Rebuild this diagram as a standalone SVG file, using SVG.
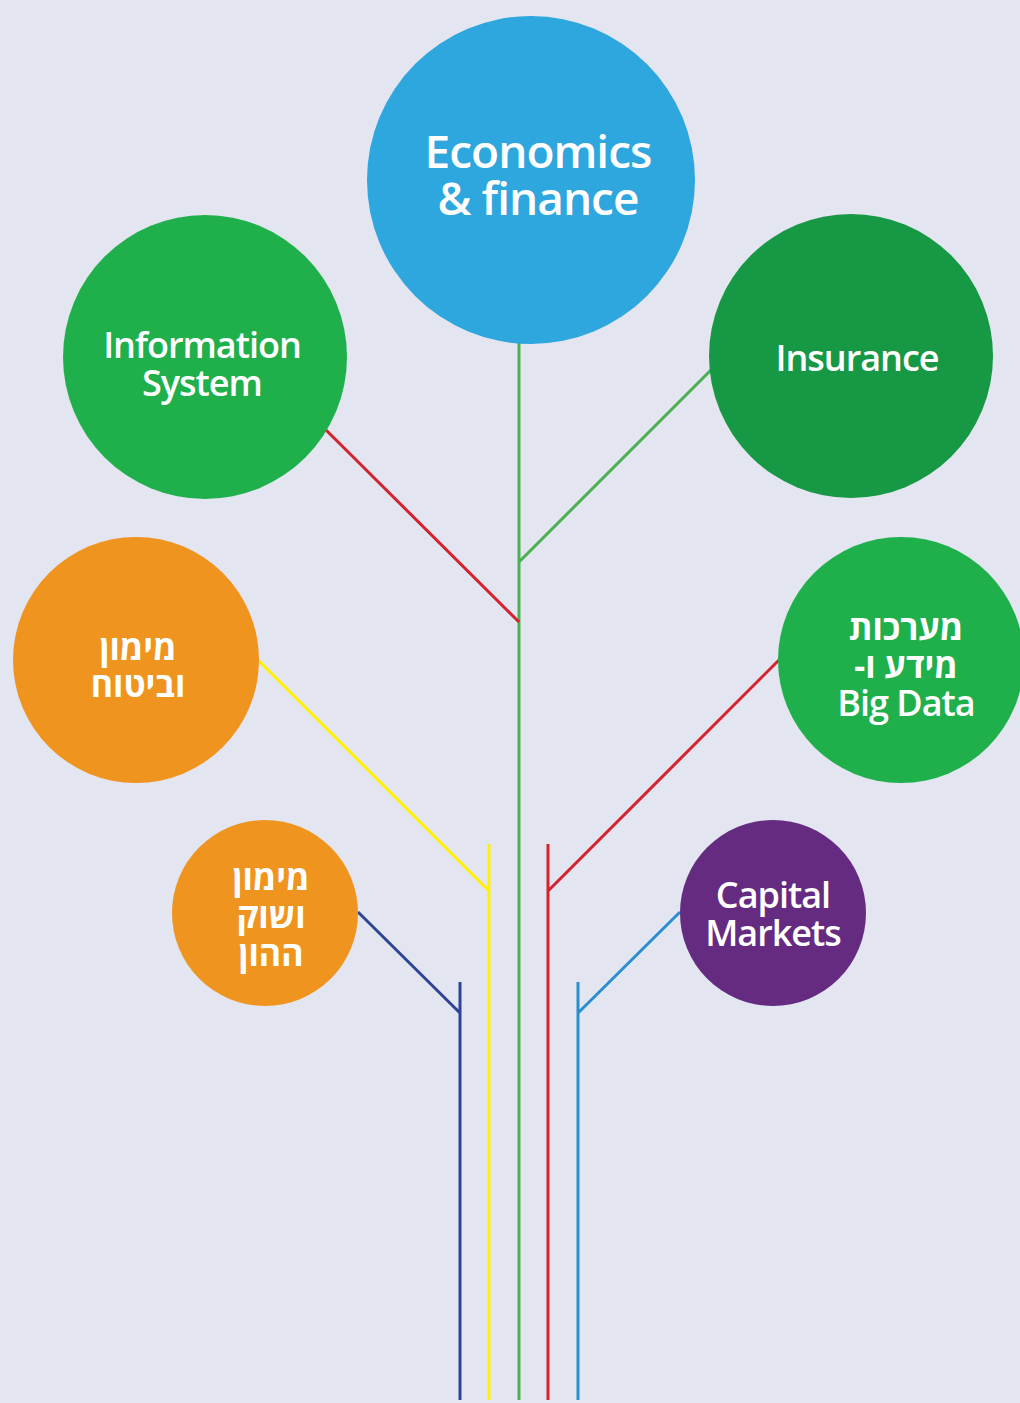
<svg xmlns="http://www.w3.org/2000/svg" width="1020" height="1403" viewBox="0 0 1020 1403">
<style>
.t{font-family:"Open Sans","Noto Sans","DejaVu Sans",sans-serif;font-weight:600;fill:#fff;text-anchor:middle;letter-spacing:-1px}
.h{font-weight:700;direction:rtl;letter-spacing:0}
.c{fill:none;stroke-width:3}
</style>
<rect width="1020" height="1403" fill="#e3e6f1"/>
<g id="connectors">
<path class="c" stroke="#4cb050" d="M519 342V1400M519 562L711 370"/>
<path class="c" stroke="#d4232e" d="M326 430L519 622M548 844V1400M779 660L548 891"/>
<path class="c" stroke="#fff200" d="M489 844V1400M258 660L489 891"/>
<path class="c" stroke="#2e4595" d="M460 982V1400M358 912L460 1013"/>
<path class="c" stroke="#2a8fd0" d="M578 982V1400M680 912L578 1013"/>
</g>
<g id="economics">
<circle cx="531" cy="180" r="164" fill="#2ea6de"/>
<text class="t" x="538" y="168" font-size="46">Economics</text>
<text class="t" x="538" y="215" font-size="46">&amp; finance</text>
</g>
<g id="information-system">
<circle cx="205" cy="357" r="142" fill="#20b04b"/>
<text class="t" x="202" y="358" font-size="36">Information</text>
<text class="t" x="202" y="396" font-size="36">System</text>
</g>
<g id="insurance">
<circle cx="851" cy="356" r="142" fill="#179845"/>
<text class="t" x="857" y="371" font-size="36">Insurance</text>
</g>
<g id="financing-insurance">
<circle cx="136" cy="660" r="123" fill="#f09420"/>
<text class="t h" x="138" y="660" font-size="34">מימון</text>
<text class="t h" x="138" y="697" font-size="34">וביטוח</text>
</g>
<g id="big-data">
<circle cx="901" cy="660" r="123" fill="#20b04b"/>
<text class="t h" x="906" y="640" font-size="34">מערכות</text>
<text class="t h" x="906" y="678" font-size="34">מידע ו-&#x200F;</text>
<text class="t" x="906" y="716" font-size="36">Big Data</text>
</g>
<g id="financing-capital-market">
<circle cx="265" cy="913" r="93" fill="#f09420"/>
<text class="t h" x="271" y="890" font-size="34">מימון</text>
<text class="t h" x="271" y="928" font-size="34">ושוק</text>
<text class="t h" x="271" y="966" font-size="34">ההון</text>
</g>
<g id="capital-markets">
<circle cx="773" cy="913" r="93" fill="#642b81"/>
<text class="t" x="773" y="908" font-size="36">Capital</text>
<text class="t" x="773" y="946" font-size="36">Markets</text>
</g>
</svg>
